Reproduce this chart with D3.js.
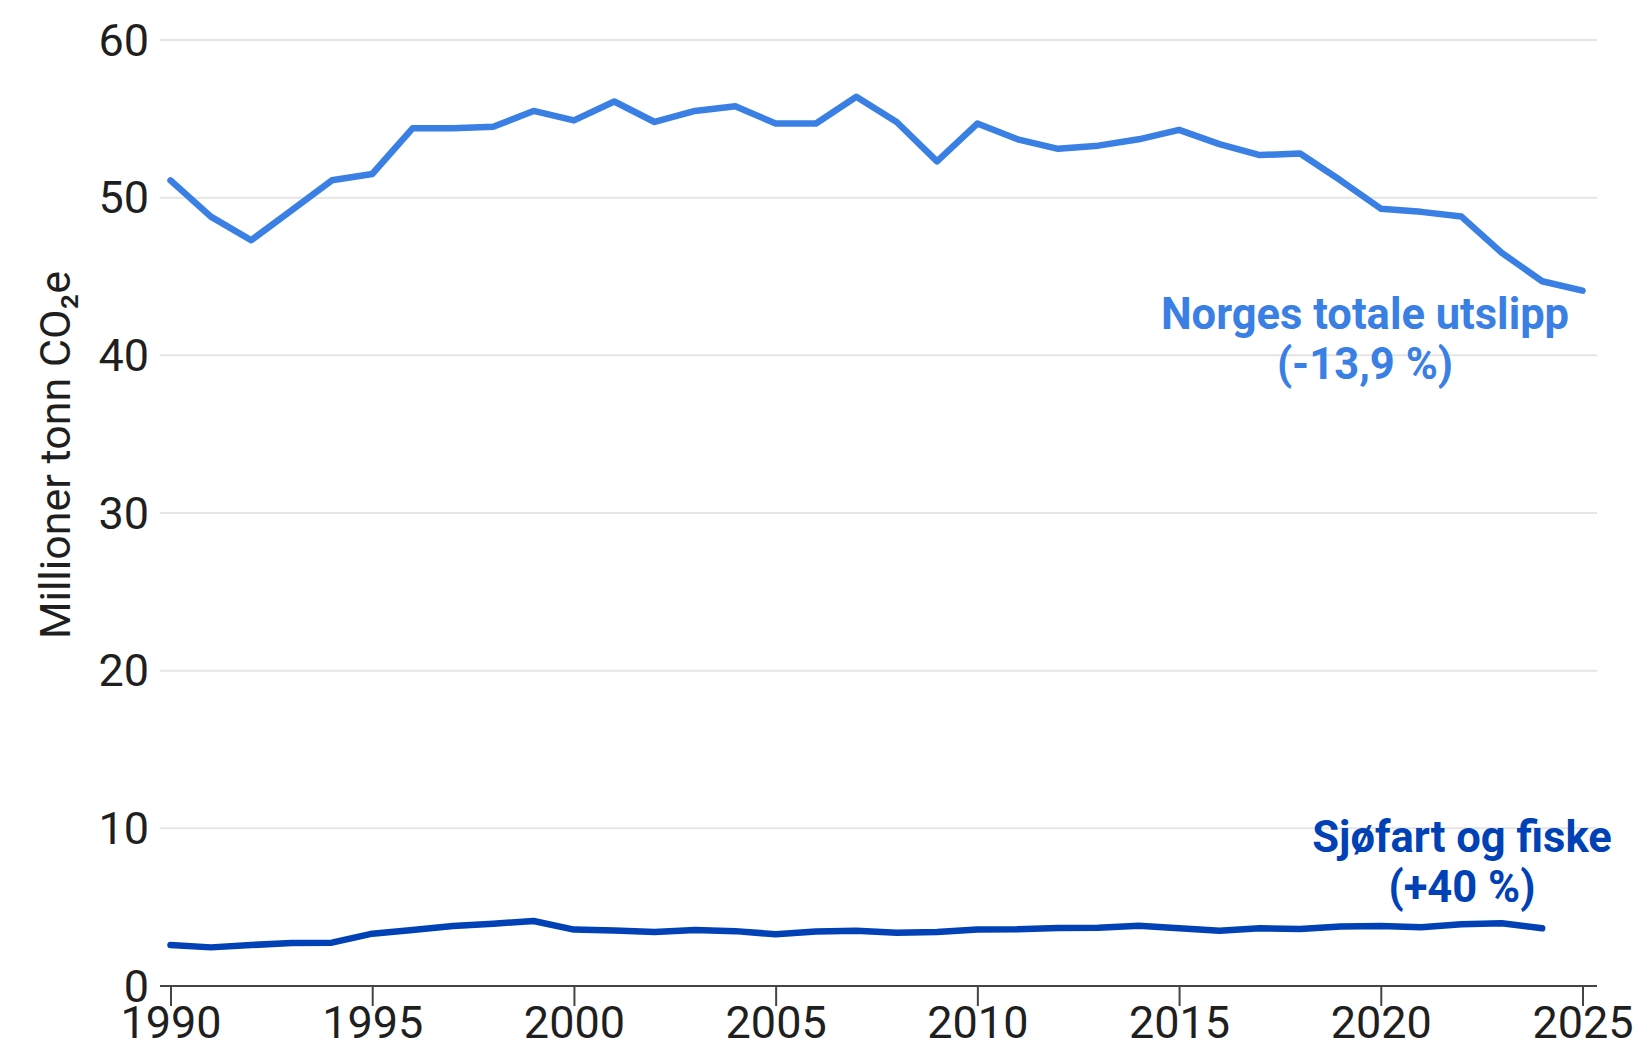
<!DOCTYPE html>
<html lang="no">
<head>
<meta charset="UTF-8">
<title>Norges totale utslipp og sjøfart</title>
<script src="https://d3js.org/d3.v7.min.js"></script>
<style>
  body, html { margin: 0; padding: 0; background: #fff; }
  text { font-family: Roboto, "Liberation Sans", sans-serif; }
  .tick-label { fill: #1f1f1f; font-size: 45px; }
  .series-label { font-weight: 700; font-size: 43.5px; text-anchor: middle; }
</style>
</head>
<body>
<svg id="chart" width="1650" height="1048"></svg>
<script>
// years shown
const years = d3.range(1990, 2026);

// Norges totale utslipp, millioner tonn CO2e
const totalValues = [51.1, 48.8, 47.3, 49.2, 51.1, 51.5, 54.4, 54.4, 54.5, 55.5,
  54.9, 56.1, 54.8, 55.5, 55.8, 54.7, 54.7, 56.4, 54.8, 52.3,
  54.7, 53.7, 53.1, 53.3, 53.7, 54.3, 53.4, 52.7, 52.8, 51.1,
  49.3, 49.1, 48.8, 46.5, 44.7, 44.1];

// Sjøfart og fiske, 1990-2024
const shippingValues = [2.6, 2.45, 2.6, 2.72, 2.75, 3.32, 3.55, 3.8, 3.95, 4.12,
  3.58, 3.52, 3.42, 3.55, 3.48, 3.28, 3.46, 3.5, 3.38, 3.42,
  3.58, 3.6, 3.68, 3.7, 3.82, 3.66, 3.5, 3.66, 3.62, 3.78,
  3.8, 3.72, 3.92, 3.98, 3.66];

const yTicks = [0, 10, 20, 30, 40, 50, 60];
const xTicks = [1990, 1995, 2000, 2005, 2010, 2015, 2020, 2025];

const colorTotal = "#3a80e4";
const colorShipping = "#0041b5";

const svg = d3.select("#chart");

const x = d3.scaleLinear().domain([1990, 2025]).range([170.5, 1582.5]);
const y = d3.scaleLinear().domain([0, 60]).range([986, 40]);

const gridLeft = 160, gridRight = 1597;

// horizontal gridlines
svg.append("g")
  .selectAll("line")
  .data(yTicks.filter(d => d > 0))
  .join("line")
  .attr("x1", gridLeft)
  .attr("x2", gridRight)
  .attr("y1", d => y(d))
  .attr("y2", d => y(d))
  .attr("stroke", "#e5e5e5")
  .attr("stroke-width", 2);

// y tick labels
svg.append("g")
  .selectAll("text")
  .data(yTicks)
  .join("text")
  .attr("class", "tick-label")
  .attr("x", 149)
  .attr("y", d => y(d))
  .attr("dy", "0.35em")
  .attr("text-anchor", "end")
  .text(d => d);

// x axis
const xAxis = svg.append("g")
  .attr("transform", `translate(0,${y(0)})`)
  .call(d3.axisBottom(x).tickValues(xTicks).tickFormat(d3.format("d")).tickSize(20).tickSizeOuter(0));

xAxis.select(".domain").remove();
xAxis.append("line")
  .attr("x1", gridLeft)
  .attr("x2", gridRight)
  .attr("stroke", "#444")
  .attr("stroke-width", 2);
xAxis.selectAll(".tick line").attr("stroke", "#444").attr("stroke-width", 2);
xAxis.selectAll(".tick text")
  .attr("class", "tick-label")
  .attr("y", 24)
  .attr("dy", "0.62em")
  .attr("font-family", null)
  .attr("font-size", null)
  .attr("fill", null);

// y axis title
svg.append("text")
  .attr("transform", "translate(70,455) rotate(-90)")
  .attr("text-anchor", "middle")
  .attr("fill", "#1f1f1f")
  .attr("font-size", 43)
  .text("Millioner tonn CO₂e");

// lines
const line = d3.line()
  .x(d => x(d[0]))
  .y(d => y(d[1]));

svg.append("path")
  .datum(totalValues.map((v, i) => [years[i], v]))
  .attr("fill", "none")
  .attr("stroke", colorTotal)
  .attr("stroke-width", 6.5)
  .attr("stroke-linejoin", "round")
  .attr("stroke-linecap", "round")
  .attr("d", line);

svg.append("path")
  .datum(shippingValues.map((v, i) => [years[i], v]))
  .attr("fill", "none")
  .attr("stroke", colorShipping)
  .attr("stroke-width", 6.5)
  .attr("stroke-linejoin", "round")
  .attr("stroke-linecap", "round")
  .attr("d", line);

// series labels
const totalLabel = svg.append("text")
  .attr("class", "series-label")
  .attr("fill", colorTotal)
  .attr("x", 1365)
  .attr("y", 329);
totalLabel.append("tspan").attr("x", 1365).text("Norges totale utslipp");
totalLabel.append("tspan").attr("x", 1365).attr("dy", 50).text("(-13,9 %)");

const shipLabel = svg.append("text")
  .attr("class", "series-label")
  .attr("fill", colorShipping)
  .attr("x", 1462)
  .attr("y", 852);
shipLabel.append("tspan").attr("x", 1462).text("Sjøfart og fiske");
shipLabel.append("tspan").attr("x", 1462).attr("dy", 50).text("(+40 %)");
</script>
</body>
</html>
